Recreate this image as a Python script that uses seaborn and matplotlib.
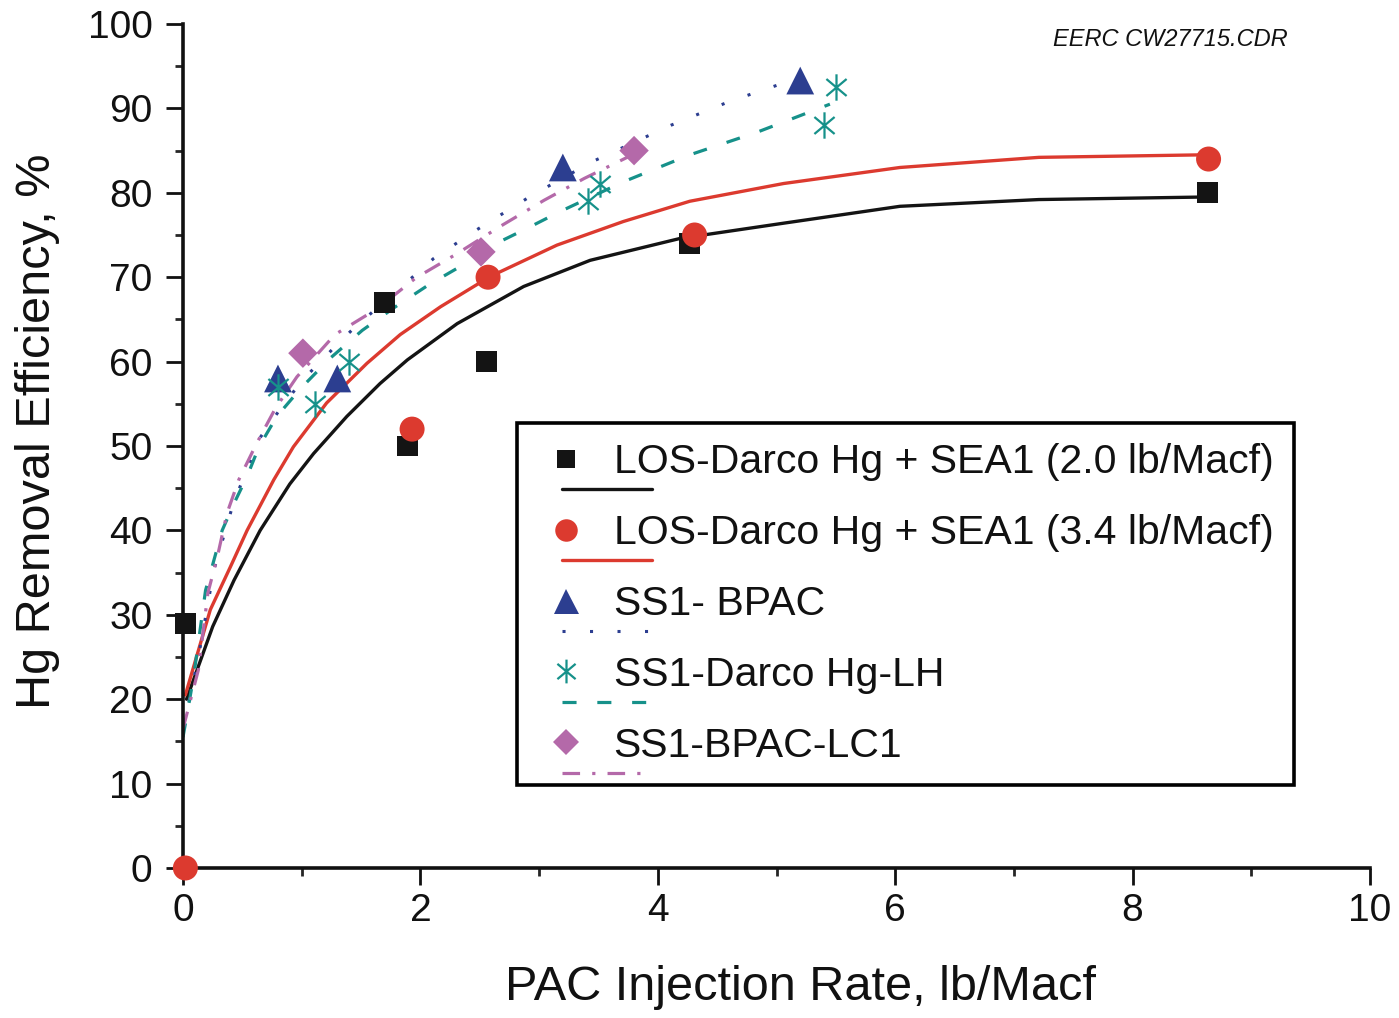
import numpy as np
import pandas as pd
import matplotlib
matplotlib.use("Agg")
import matplotlib.pyplot as plt
import seaborn as sns
from matplotlib.lines import Line2D
from matplotlib.legend_handler import HandlerBase
from matplotlib.path import Path
from matplotlib.ticker import MultipleLocator

# ---------------- data ----------------
los20_x = [0.02, 1.70, 1.89, 2.56, 4.27, 8.63]
los20_y = [29, 67, 50, 60, 74, 80]
los34_x = [0.02, 1.93, 2.57, 4.31, 8.64]
los34_y = [0, 52, 70, 75, 84]
bpac_x = [0.80, 1.30, 3.20, 5.20]
bpac_y = [58, 58, 83, 93.3]
darco_x = [0.80, 1.11, 1.40, 3.41, 3.51, 5.40, 5.50]
darco_y = [57, 55, 60, 79, 81, 88, 92.5]
lc1_x = [1.01, 2.51, 3.80]
lc1_y = [61, 73, 85]

# fitted curves
fit20_x = [0.03, 0.25, 0.43, 0.65, 0.90, 1.10, 1.38, 1.66, 1.89, 2.31, 2.87, 3.43, 4.19, 5.06, 6.04, 7.21, 8.60]
fit20_y = [20.0, 28.6, 34.1, 40.0, 45.5, 49.1, 53.5, 57.4, 60.2, 64.5, 68.9, 72.0, 74.6, 76.4, 78.4, 79.2, 79.5]
fit34_x = [0.02, 0.23, 0.40, 0.54, 0.765, 0.93, 1.21, 1.55, 1.83, 2.17, 2.59, 3.15, 3.71, 4.27, 5.06, 6.04, 7.21, 8.60]
fit34_y = [20.5, 30.6, 35.7, 40.0, 46.0, 49.9, 55.1, 59.8, 63.2, 66.5, 70.1, 73.8, 76.6, 79.0, 81.1, 83.0, 84.2, 84.5]
fitbp_x = [0.0, 0.13, 0.26, 0.43, 0.55, 0.65, 0.85, 1.02, 1.31, 1.45, 1.78, 2.11, 2.45, 2.94, 3.45, 4.11, 4.60, 5.10]
fitbp_y = [16.5, 25.0, 35.3, 43.5, 47.5, 51.0, 55.0, 58.0, 62.2, 64.1, 68.1, 72.2, 75.4, 79.7, 83.7, 88.0, 90.8, 93.2]
fitdh_x = [0.0, 0.09, 0.19, 0.33, 0.43, 0.54, 0.64, 0.79, 0.99, 1.24, 1.51, 1.79, 2.07, 2.34, 2.61, 2.90, 3.18, 3.71, 4.27, 4.84, 5.45]
fitdh_y = [15.5, 22.7, 32.9, 40.0, 43.2, 46.4, 49.9, 53.5, 56.8, 60.4, 63.7, 66.5, 69.1, 71.3, 73.8, 75.8, 77.8, 81.3, 84.5, 87.2, 90.5]
fitlc_x = [0.0, 0.13, 0.21, 0.29, 0.37, 0.47, 0.62, 0.78, 0.96, 1.28, 1.64, 1.96, 2.31, 2.67, 3.04, 3.38, 3.80]
fitlc_y = [16.5, 23.5, 32.6, 36.9, 42.0, 46.0, 50.3, 54.5, 58.2, 63.2, 66.3, 69.9, 72.8, 76.0, 79.1, 81.7, 84.6]

labels = ["LOS-Darco Hg + SEA1 (2.0 lb/Macf)",
          "LOS-Darco Hg + SEA1 (3.4 lb/Macf)",
          "SS1- BPAC",
          "SS1-Darco Hg-LH",
          "SS1-BPAC-LC1"]
x_ticks = [0, 2, 4, 6, 8, 10]
y_ticks = [0, 10, 20, 30, 40, 50, 60, 70, 80, 90, 100]

# ---------------- style ----------------
sns.set_style("ticks")
plt.rcParams['font.family'] = ['Liberation Sans', 'DejaVu Sans']

BLACK = "#141414"
RED = "#dc3a2f"
BLUE = "#2c3e90"
TEAL = "#16918a"
PURPLE = "#b469a9"

# asterisk marker: vertical + two diagonals
ang = np.deg2rad([90, 40, 140])
verts, codes = [], []
for a in ang:
    verts += [(-np.cos(a), -np.sin(a)), (np.cos(a), np.sin(a))]
    codes += [Path.MOVETO, Path.LINETO]
AST = Path(verts, codes)

fig = plt.figure(figsize=(13.99, 10.18), dpi=100)
ax = fig.add_axes([183/1399, 1-868/1018, 1187/1399, 844/1018])

series = [
    (fit20_x, fit20_y, los20_x, los20_y, BLACK, "-", 2.4, "s", 15, 0),
    (fit34_x, fit34_y, los34_x, los34_y, RED, "-", 2.4, "o", 18, 0),
    (fitbp_x, fitbp_y, bpac_x, bpac_y, BLUE, (0, (1, 8)), 2.2, "^", 20, 0),
    (fitdh_x, fitdh_y, darco_x, darco_y, TEAL, (0, (4.4, 6.5)), 2.3, AST, 19, 1.6),
    (fitlc_x, fitlc_y, lc1_x, lc1_y, PURPLE, (0, (5.5, 3.8, 1, 3.8)), 2.3, "D", 15, 0),
]

handles = []
for fx, fy, px, py, col, ls, lw, mk, ms, mew in series:
    sns.lineplot(x=fx, y=fy, sort=False, estimator=None, color=col,
                 linestyle=ls, linewidth=lw, ax=ax, zorder=2)
    if mew > 0:
        sns.scatterplot(x=px, y=py, marker=mk, s=ms**2, color=col,
                        edgecolor=col, linewidth=mew, ax=ax, zorder=3, clip_on=False)
    else:
        sns.scatterplot(x=px, y=py, marker=mk, s=ms**2, color=col,
                        edgecolor="none", linewidth=0, ax=ax, zorder=3, clip_on=False)
    h = Line2D([0], [0], color=col, linestyle=ls, linewidth=lw, marker=mk,
               markersize=ms*0.9, markerfacecolor=col, markeredgecolor=col,
               markeredgewidth=mew)
    handles.append(h)


class MarkerAboveLine(HandlerBase):
    def create_artists(self, legend, orig_handle, xdescent, ydescent, width,
                       height, fontsize, trans):
        cy = height / 2.0 - ydescent
        x0 = -xdescent
        mk = Line2D([x0 + 0.70 * fontsize], [cy])
        mk.update_from(orig_handle)
        mk.set_linestyle("None")
        ln = Line2D([x0 + 0.60 * fontsize, x0 + 2.8 * fontsize],
                    [cy - 0.74 * fontsize] * 2)
        ln.update_from(orig_handle)
        ln.set_marker("None")
        for a in (mk, ln):
            a.set_transform(trans)
        return [mk, ln]


leg = ax.legend(handles, labels, handler_map={Line2D: MarkerAboveLine()},
                loc="upper left", bbox_to_anchor=((517-183)/1187, (868-423)/844),
                borderaxespad=0, fontsize=29.5, frameon=True, fancybox=False,
                framealpha=1, edgecolor="black", borderpad=0.5,
                labelspacing=0.8, handlelength=1.25, handletextpad=0.61)
leg.get_frame().set_linewidth(2.6)
for t in leg.get_texts():
    t.set_color("#111111")

ax.set_xlim(0, 10)
ax.set_ylim(0, 100)
ax.set_xticks(x_ticks)
ax.set_yticks(y_ticks)
ax.xaxis.set_minor_locator(MultipleLocator(1))
ax.yaxis.set_minor_locator(MultipleLocator(5))
ax.tick_params(axis="both", which="major", length=12, width=2, direction="out",
               labelsize=28, colors="#111111")
ax.tick_params(axis="both", which="minor", length=6, width=2, direction="out")
ax.tick_params(axis="y", which="major", pad=10)
ax.tick_params(axis="x", which="major", pad=6)
sns.despine(ax=ax)
for s in ("left", "bottom"):
    ax.spines[s].set_linewidth(2.6)
    ax.spines[s].set_color("#111111")

ax.set_xlabel("PAC Injection Rate, lb/Macf", fontsize=35, color="#111111")
ax.set_ylabel("Hg Removal Efficiency, %", fontsize=35, color="#111111")
ax.xaxis.set_label_coords((801-183)/1187, (868-965)/844)
ax.yaxis.set_label_coords((60-183)/1187, (868-431)/844)

ax.text((1288-183)/1187, (868-39)/844, "EERC CW27715.CDR", transform=ax.transAxes,
        ha="right", va="center", fontsize=17, style="italic", color="#111111")

fig.savefig("out.png", dpi=100)
